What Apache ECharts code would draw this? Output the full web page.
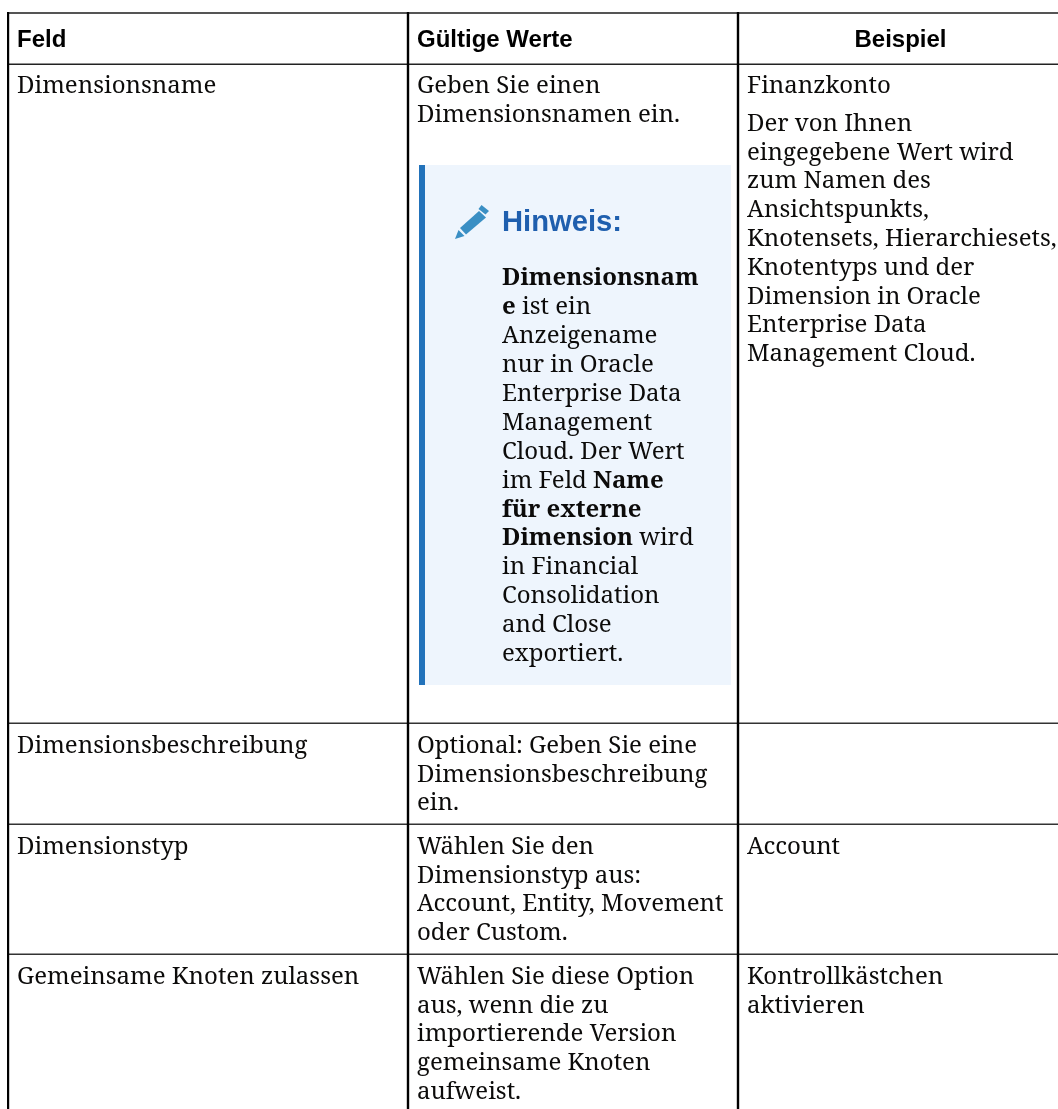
<!DOCTYPE html>
<html><head><meta charset="utf-8"><style>html,body{margin:0;padding:0;background:#fff;overflow:hidden;width:1058px;height:1109px}#c{width:1058px;height:1109px}</style>
<script src="https://cdn.jsdelivr.net/npm/echarts@6/dist/echarts.min.js"></script></head>
<body><div id="c"></div>
<script>
const headers = ["Feld", "Gültige Werte", "Beispiel"];
const fieldNames = ["Dimensionsname", "Dimensionsbeschreibung", "Dimensionstyp", "Gemeinsame Knoten zulassen"];
const validIntro = ["Geben Sie einen", "Dimensionsnamen ein."];
const noteTitle = "Hinweis:";
const noteLines = ["{b|Dimensionsnam}", "{b|e} ist ein", "Anzeigename", "nur in Oracle", "Enterprise Data", "Management", "Cloud. Der Wert", "im Feld {b|Name}", "{b|für externe}", "{b|Dimension} wird", "in Financial", "Consolidation", "and Close", "exportiert."];
const validDescription = ["Optional: Geben Sie eine", "Dimensionsbeschreibung", "ein."];
const validType = ["Wählen Sie den", "Dimensionstyp aus:", "Account, Entity, Movement", "oder Custom."];
const validShared = ["Wählen Sie diese Option", "aus, wenn die zu", "importierende Version", "gemeinsame Knoten", "aufweist."];
const exampleName = ["Finanzkonto"];
const exampleNameNote = ["Der von Ihnen", "eingegebene Wert wird", "zum Namen des", "Ansichtspunkts,", "Knotensets, Hierarchiesets,", "Knotentyps und der", "Dimension in Oracle", "Enterprise Data", "Management Cloud."];
const exampleType = ["Account"];
const exampleShared = ["Kontrollkästchen", "aktivieren"];

const SERIF = '"Noto Serif","DejaVu Serif",serif';
const SANS = '"Liberation Sans",Arial,sans-serif';
const LH = 28.8, FS = 24;
const X = [17, 417, 747], NOTE_X = 502;
const ROW_Y = [86, 746, 847, 977];
const TEXT = '#0c0b0a';
const els = [];
const rect = (x, y, w, h, fill) => els.push({type:'rect', shape:{x, y, width:w, height:h}, style:{fill}});
function block(lines, x, y, lh = LH) {
  lines.forEach((t, i) => els.push({type:'text', x, y: y + i * lh, style:{
    text:t, font:`${FS}px ${SERIF}`, fill:TEXT, verticalAlign:'middle', align:'left',
    rich:{b:{font:`bold ${FS}px ${SERIF}`, fill:TEXT}}
  }}));
}
rect(419, 165, 312, 520, '#eef5fd');
rect(419, 165, 6, 520, '#2272ba');
rect(7, 12, 1051, 2, '#555555');
rect(7, 63.5, 1051, 1.5, '#222222');
[722.5, 823.5, 953.5].forEach(y => rect(7, y, 1051, 1.5, '#333333'));
[[7, 2.2], [406.8, 2.4], [736.8, 2.4]].forEach(([x, w]) => rect(x, 12, w, 1097, '#000000'));
headers.forEach((t, i) => els.push({type:'text', x: i === 2 ? 900.5 : X[i], y: 40, style:{
  text:t, font:`bold ${FS}px ${SANS}`, fill:'#000', verticalAlign:'middle', align: i === 2 ? 'center' : 'left'}}));
const pencil = '#3a8fc4';
[[[455,239],[458.5,230],[464.5,236]], [[460,228],[479,211],[486,217.5],[466,234.5]], [[481.5,205],[489,211],[485.5,214.5],[478.5,209]]]
  .forEach(points => els.push({type:'polygon', shape:{points}, style:{fill:pencil}}));
els.push({type:'text', x:NOTE_X, y:223, style:{text:noteTitle, font:`bold 29.2px ${SANS}`, fill:'#1f5fae', verticalAlign:'middle'}});
block([fieldNames[0]], X[0], ROW_Y[0]);
block([fieldNames[1]], X[0], ROW_Y[1]);
block([fieldNames[2]], X[0], ROW_Y[2]);
block([fieldNames[3]], X[0], ROW_Y[3]);
block(validIntro, X[1], ROW_Y[0]);
block(noteLines, NOTE_X, 278.5, 28.9);
block(validDescription, X[1], ROW_Y[1]);
block(validType, X[1], ROW_Y[2]);
block(validShared, X[1], ROW_Y[3]);
block(exampleName, X[2], ROW_Y[0]);
block(exampleNameNote, X[2], 124);
block(exampleType, X[2], ROW_Y[2]);
block(exampleShared, X[2], ROW_Y[3]);
const chart = echarts.init(document.getElementById('c'), null, {renderer:'canvas'});
chart.setOption({animation:false, backgroundColor:'#fff', graphic:{elements:els}});
</script></body></html>
